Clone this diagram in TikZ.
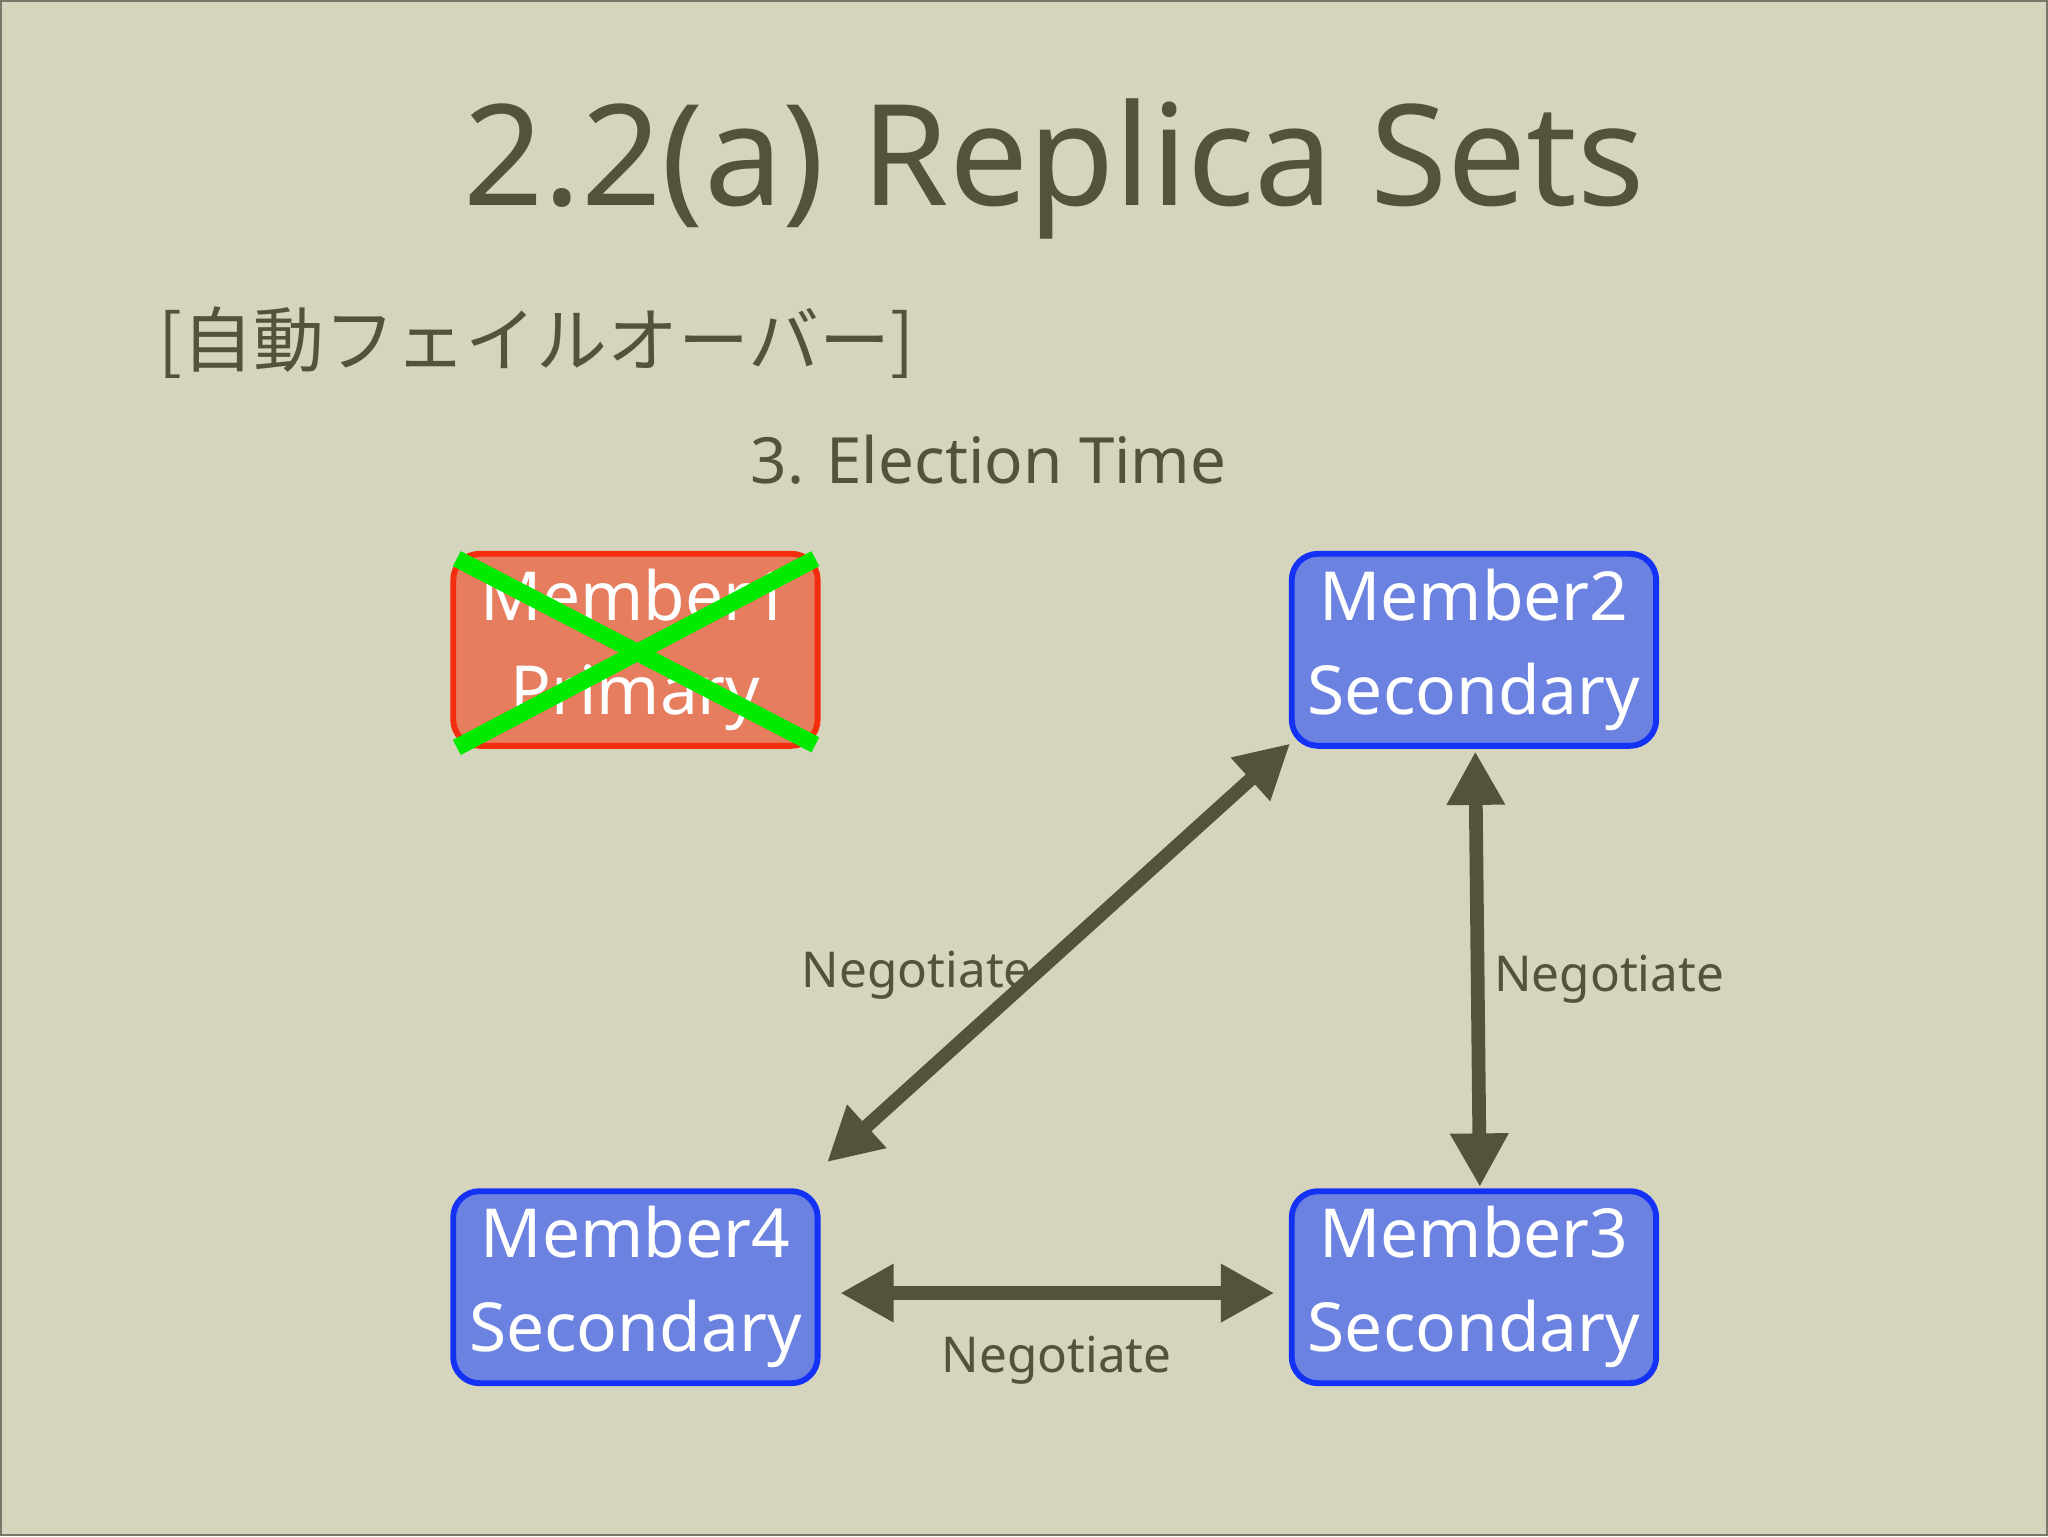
\documentclass[tikz,border=0pt]{standalone}
\usepackage{fontspec}
\setmainfont{Noto Sans}
\newfontfamily\jpfont{Noto Sans CJK JP}
\usetikzlibrary{arrows.meta}
\definecolor{bg}{RGB}{213,213,190}
\definecolor{frameline}{RGB}{120,120,104}
\definecolor{ink}{RGB}{85,82,58}
\definecolor{redfill}{RGB}{230,125,95}
\definecolor{redline}{RGB}{245,45,15}
\definecolor{bluefill}{RGB}{108,130,224}
\definecolor{blueline}{RGB}{20,50,245}
\definecolor{xgreen}{RGB}{0,235,0}
\begin{document}
\begin{tikzpicture}[x=1bp,y=-1bp,
  member/.style={draw=blueline, fill=bluefill, line width=4.5bp, rounded corners=20bp,
    minimum width=279bp, minimum height=147bp, text=white, align=center,
    font=\fontsize{52}{72}\selectfont, inner sep=0pt},
  failed/.style={member, draw=redline, fill=redfill},
  arr/.style={draw=ink, line width=10.5bp, {Triangle[length=41bp,width=42bp]}-{Triangle[length=41bp,width=42bp]}},
  lbl/.style={text=ink, font=\fontsize{38}{46}\selectfont, anchor=base, inner sep=0pt},
  xline/.style={draw=xgreen, line width=13bp, line cap=butt}
]
\fill[bg] (0,0) rectangle (1568,1176);
\draw[frameline, line width=1.5bp] (0.75,0.75) rectangle (1567.25,1175.25);
\useasboundingbox (0,0) rectangle (1568,1176);

\node[text=ink, font=\fontsize{108}{120}\selectfont, anchor=base, inner sep=0pt] (title) at (807,157) {2.2(a) Replica Sets};
\node[text=ink, font=\jpfont\fontsize{54.5}{60}\selectfont, anchor=west, inner sep=0pt] (sub) at (121,262) {[自動フェイルオーバー]};
\node[text=ink, font=\fontsize{49}{56}\selectfont, anchor=base, inner sep=0pt] (step3) at (757,370) {3. Election Time};

\node[failed] (m1) at (486.5,497.5) {Member1\\Primary};
\node[member] (m2) at (1128.5,497.5) {Member2\\Secondary};
\node[member] (m4) at (486.5,985.5) {Member4\\Secondary};
\node[member] (m3) at (1128.5,985.5) {Member3\\Secondary};

\draw[xline] ([shift={(5bp,-6bp)}]m1.north west) -- ([shift={(-4bp,3bp)}]m1.south east);
\draw[xline] ([shift={(5bp,1bp)}]m1.south west) -- ([shift={(-4bp,-6bp)}]m1.north east);

\draw[arr] ([shift={(5bp,20bp)}]m4.north east) -- ([shift={(1bp,4bp)}]m2.south west);
\draw[arr] ([shift={(1bp,-2bp)}]m2.south) -- ([shift={(4.5bp,1bp)}]m3.north);
\draw[arr] ([shift={(15bp,-4.5bp)}]m4.east) -- ([shift={(-11bp,-4.5bp)}]m3.west);

\node[lbl] (n1) at (702,756) {Negotiate};
\node[lbl] (n2) at (1232,759) {Negotiate};
\node[lbl] (n3) at (809,1051) {Negotiate};
\end{tikzpicture}
\end{document}
